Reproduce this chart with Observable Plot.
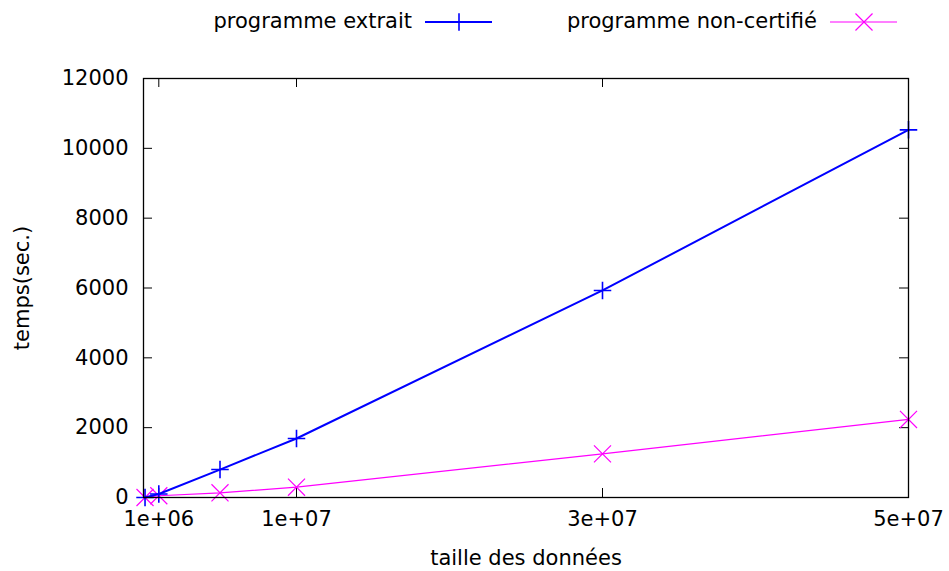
<!DOCTYPE html>
<html><head><meta charset="utf-8">
<script src="https://cdn.jsdelivr.net/npm/d3@7"></script>
<script src="https://cdn.jsdelivr.net/npm/@observablehq/plot@0.6"></script>
<style>
body{margin:0;background:#fff;font-family:"DejaVu Sans",sans-serif;}
#legend{position:relative;height:45px;width:949px;font-size:21px;color:#000;}
#legend .lab{position:absolute;top:9px;white-space:nowrap;line-height:24px;}
#legend svg{position:absolute;top:0;}
</style></head><body>
<div id="legend"></div>
<div id="chart"></div>
<script>
const sizes = [1e5, 1e6, 5e6, 1e7, 3e7, 5e7];
const extrait = [0, 100, 800, 1690, 5930, 10530];
const nonCertifie = [0, 50, 135, 295, 1250, 2235];
const seriesNames = ["programme extrait", "programme non-certifié"];
const seriesColors = ["#0000ff", "#ff00ff"];
const xTicks = [1e6, 1e7, 3e7, 5e7];
const xTickLabels = ["1e+06", "1e+07", "3e+07", "5e+07"];
const yTicks = [0, 2000, 4000, 6000, 8000, 10000, 12000];

const W = 949, H = 526;
const mL = 143, mR = 41, mT = 33, mB = 74;
const pw = W - mL - mR, ph = H - mT - mB;
const tk = 9;
const fs = 21;

const dA = sizes.map((x, i) => ({x, y: extrait[i]}));
const dB = sizes.map((x, i) => ({x, y: nonCertifie[i]}));

const plot = Plot.plot({
  width: W, height: H,
  marginLeft: mL, marginRight: mR, marginTop: mT, marginBottom: mB,
  style: {fontFamily: "DejaVu Sans", fontSize: fs + "px", color: "#000", background: "#fff"},
  x: {domain: [0, 5e7]},
  y: {domain: [0, 12000]},
  marks: [
    Plot.tickY(yTicks, {y: d => d, stroke: "#000", strokeWidth: 1, insetRight: pw - tk}),
    Plot.tickY(yTicks, {y: d => d, stroke: "#000", strokeWidth: 1, insetLeft: pw - tk}),
    Plot.tickX(xTicks, {x: d => d, stroke: "#000", strokeWidth: 1, insetTop: ph - tk}),
    Plot.tickX(xTicks, {x: d => d, stroke: "#000", strokeWidth: 1, insetBottom: ph - tk}),
    Plot.axisY({ticks: yTicks, tickFormat: d => String(d), tickSize: 0, tickPadding: 15, label: null, fontSize: fs}),
    Plot.axisX({ticks: xTicks, tickFormat: d => xTickLabels[xTicks.indexOf(d)], tickSize: 0, tickPadding: 14, label: null, fontSize: fs}),
    Plot.line(dB, {x: "x", y: "y", stroke: seriesColors[1], strokeWidth: 1.2}),
    Plot.dot(dB, {x: "x", y: "y", symbol: "times", r: 7.8, stroke: seriesColors[1], strokeWidth: 1.2}),
    Plot.line(dA, {x: "x", y: "y", stroke: seriesColors[0], strokeWidth: 2}),
    Plot.dot(dA, {x: "x", y: "y", symbol: "plus", r: 5.7, stroke: seriesColors[0], strokeWidth: 1.6}),
    Plot.frame({stroke: "#000", strokeWidth: 1.3}),
    Plot.text(["temps(sec.)"], {frameAnchor: "left", textAnchor: "middle", rotate: -90, dx: -121, fontSize: fs, fill: "#000"}),
    Plot.text(["taille des données"], {frameAnchor: "bottom", dy: 67, fontSize: fs, fill: "#000"})
  ]
});
document.getElementById("chart").appendChild(plot);

// legend
const legend = document.getElementById("legend");
const legendItems = [
  {name: seriesNames[0], color: seriesColors[0], right: 412, sx: 425, sym: "plus", sw: 2, mw: 1.6},
  {name: seriesNames[1], color: seriesColors[1], right: 817, sx: 830, sym: "times", sw: 1.2, mw: 1.2}
];
legendItems.forEach(it => {
  const s = document.createElement("span");
  s.className = "lab";
  s.textContent = it.name;
  s.style.right = (W - it.right) + "px";
  legend.appendChild(s);
  const svg = d3.select(legend).append("svg").attr("width", 68).attr("height", 45).style("left", it.sx + "px");
  svg.append("line").attr("x1", 0).attr("x2", 67).attr("y1", 22).attr("y2", 22).attr("stroke", it.color).attr("stroke-width", it.sw);
  const sym = d3.symbol(it.sym === "plus" ? d3.symbolPlus : d3.symbolTimes, it.sym === "plus" ? Math.PI*5.7*5.7 : Math.PI*7.8*7.8);
  svg.append("path").attr("d", sym()).attr("transform", "translate(34,22)").attr("fill", "none").attr("stroke", it.color).attr("stroke-width", it.mw);
});
</script>
</body></html>
